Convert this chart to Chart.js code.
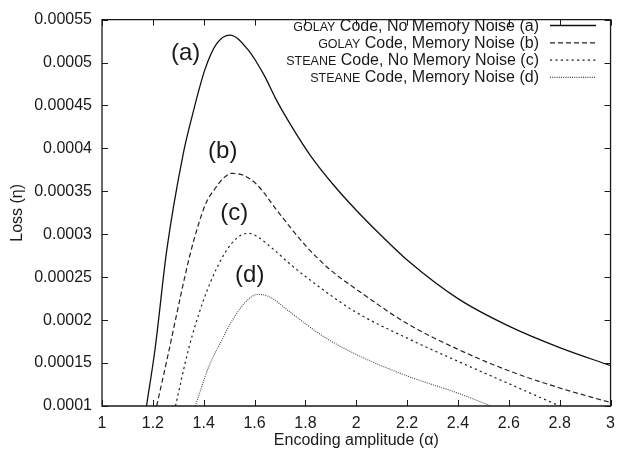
<!DOCTYPE html>
<html>
<head>
<meta charset="utf-8">
<script src="https://cdn.jsdelivr.net/npm/chart.js@4.4.1/dist/chart.umd.min.js"></script>
<style>
  html, body { margin: 0; padding: 0; background: #ffffff; }
  #wrap { width: 623px; height: 459px; position: relative; }
</style>
</head>
<body>
<div id="wrap"><canvas id="c" width="623" height="459"></canvas></div>
<script>
// ---- data ----
const alphaA = [1.175, 1.209, 1.254, 1.319, 1.354, 1.405, 1.451, 1.503, 1.574, 1.638, 1.683, 1.741, 1.819, 1.909, 2.0, 2.1, 2.2, 2.4, 2.6, 2.8, 3.0];
const lossA  = [0.0001, 0.000167, 0.00028, 0.000393, 0.000437, 0.000492, 0.000522, 0.000532, 0.000515, 0.000485, 0.000458, 0.000428, 0.000392, 0.000358, 0.000328, 0.000298, 0.00027, 0.000225, 0.000193, 0.000168, 0.000147];

const alphaB = [1.215, 1.26, 1.309, 1.345, 1.38, 1.41, 1.444, 1.48, 1.509, 1.561, 1.612, 1.69, 1.806, 1.9, 2.0, 2.2, 2.4, 2.6, 2.8, 3.0];
const lossB  = [0.0001, 0.00016, 0.000228, 0.000275, 0.000312, 0.000337, 0.000353, 0.000366, 0.000371, 0.000368, 0.000357, 0.000327, 0.000285, 0.000258, 0.000236, 0.000196, 0.000166, 0.000141, 0.000121, 0.000104];

const alphaC = [1.289, 1.341, 1.399, 1.457, 1.509, 1.554, 1.58, 1.612, 1.676, 1.741, 1.871, 2.0, 2.2, 2.4, 2.6, 2.8];
const lossC  = [0.0001, 0.000167, 0.000223, 0.000264, 0.000289, 0.0003, 0.000301, 0.000297, 0.000282, 0.000265, 0.000235, 0.000209, 0.000179, 0.000152, 0.000126, 0.0001];

const alphaD = [1.367, 1.419, 1.47, 1.509, 1.561, 1.612, 1.66, 1.741, 1.871, 2.0, 2.2, 2.4, 2.53];
const lossD  = [0.0001, 0.000145, 0.000176, 0.000198, 0.00022, 0.00023, 0.000227, 0.000209, 0.000181, 0.00016, 0.000135, 0.000115, 0.0001];

const seriesCode  = ['GOLAY', 'GOLAY', 'STEANE', 'STEANE'];
const seriesRest  = [' Code, No Memory Noise (a)', ' Code, Memory Noise (b)', ' Code, No Memory Noise (c)', ' Code, Memory Noise (d)'];
const curveTags   = ['(a)', '(b)', '(c)', '(d)'];
const tagAlpha    = [1.329, 1.475, 1.52, 1.581];
const tagLoss     = [0.000511, 0.000397, 0.000324, 0.000252];

const xTicks = [1, 1.2, 1.4, 1.6, 1.8, 2, 2.2, 2.4, 2.6, 2.8, 3];
const yTicks = [0.0001, 0.00015, 0.0002, 0.00025, 0.0003, 0.00035, 0.0004, 0.00045, 0.0005, 0.00055];

// ---- styles ----
const FONT = '"Liberation Sans", Arial, Helvetica, sans-serif';
const INK = '#1a1a1a';
const dashes = [[], [5, 3], [2.2, 3.2], [1, 1.2]];
const widths = [1.3, 1.2, 1.2, 1.1];
const colors = ['#111', '#222', '#222', '#444'];

function pts(xs, ys) { return xs.map((x, i) => ({ x: x, y: ys[i] })); }
const allX = [alphaA, alphaB, alphaC, alphaD];
const allY = [lossA, lossB, lossC, lossD];

const datasets = allX.map((xs, i) => ({
  label: seriesCode[i] + seriesRest[i],
  data: pts(xs, allY[i]),
  borderColor: colors[i],
  borderWidth: widths[i],
  borderDash: dashes[i],
  pointRadius: 0,
  fill: false,
  cubicInterpolationMode: 'monotone',
  showLine: true
}));

const framePlugin = {
  id: 'frame',
  afterDatasetsDraw(chart) {
    const ctx = chart.ctx;
    const a = chart.chartArea;
    const xs = chart.scales.x, ys = chart.scales.y;
    ctx.save();
    ctx.strokeStyle = INK;
    ctx.lineWidth = 1.3;
    ctx.beginPath();
    ctx.rect(a.left, a.top, a.right - a.left, a.bottom - a.top);
    ctx.stroke();
    ctx.lineWidth = 1;
    const L = 6;
    ctx.beginPath();
    xTicks.forEach(v => {
      const p = Math.round(xs.getPixelForValue(v)) + 0.5;
      ctx.moveTo(p, a.bottom); ctx.lineTo(p, a.bottom - L);
      ctx.moveTo(p, a.top); ctx.lineTo(p, a.top + L);
    });
    yTicks.forEach(v => {
      const p = Math.round(ys.getPixelForValue(v)) + 0.5;
      ctx.moveTo(a.left, p); ctx.lineTo(a.left + L, p);
      ctx.moveTo(a.right, p); ctx.lineTo(a.right - L, p);
    });
    ctx.stroke();

    // curve tags
    ctx.fillStyle = INK;
    ctx.font = '24px ' + FONT;
    ctx.textAlign = 'center';
    ctx.textBaseline = 'middle';
    curveTags.forEach((t, i) => {
      ctx.fillText(t, xs.getPixelForValue(tagAlpha[i]), ys.getPixelForValue(tagLoss[i]));
    });

    // legend (small-caps code name + regular text)
    const textRight = 539, lineX0 = 550, lineX1 = 596;
    const rowY = [25, 42.3, 59.7, 76.9];
    ctx.textBaseline = 'alphabetic';
    ctx.textAlign = 'left';
    seriesRest.forEach((rest, i) => {
      const y = rowY[i];
      ctx.font = '16px ' + FONT;
      const wr = ctx.measureText(rest).width;
      ctx.font = '12.5px ' + FONT;
      const wc = ctx.measureText(seriesCode[i]).width;
      const x0 = textRight - wr - wc;
      const base = y + 5.5;
      ctx.fillText(seriesCode[i], x0, base);
      ctx.font = '16px ' + FONT;
      ctx.fillText(rest, x0 + wc, base);
      ctx.save();
      ctx.strokeStyle = colors[i];
      ctx.lineWidth = widths[i];
      ctx.setLineDash(dashes[i]);
      ctx.beginPath();
      ctx.moveTo(lineX0, y + 0.5); ctx.lineTo(lineX1, y + 0.5);
      ctx.stroke();
      ctx.restore();
    });
    ctx.restore();
  }
};

Chart.defaults.font.family = FONT;
Chart.defaults.color = INK;

new Chart(document.getElementById('c'), {
  type: 'scatter',
  data: { datasets: datasets },
  options: {
    responsive: false,
    animation: false,
    events: [],
    layout: { padding: { left: 0, right: 7, top: 9, bottom: 0 } },
    plugins: { legend: { display: false }, tooltip: { enabled: false } },
    scales: {
      x: {
        type: 'linear', min: 1, max: 3,
        afterFit(s) { s.height = 53; },
        afterBuildTicks(s) { s.ticks = xTicks.map(v => ({ value: v })); },
        grid: { display: false, drawTicks: false },
        border: { display: false },
        ticks: {
          padding: 8, color: INK, font: { size: 16 },
          maxRotation: 0, autoSkip: false,
          callback: v => String(parseFloat(Number(v).toFixed(2)))
        },
        title: { display: true, text: 'Encoding amplitude (α)', color: INK, font: { size: 16 }, padding: { top: 0, bottom: 9 } }
      },
      y: {
        type: 'linear', min: 0.0001, max: 0.00055,
        afterFit(s) { s.width = 102; },
        afterBuildTicks(s) { s.ticks = yTicks.map(v => ({ value: v })); },
        grid: { display: false, drawTicks: false },
        border: { display: false },
        ticks: {
          padding: 10, color: INK, font: { size: 16 }, autoSkip: false,
          callback: v => String(parseFloat(Number(v).toFixed(6)))
        },
        title: { display: true, text: 'Loss (η)', color: INK, font: { size: 16 }, padding: { top: 8, bottom: 0 } }
      }
    }
  },
  plugins: [framePlugin]
});
</script>
</body>
</html>
